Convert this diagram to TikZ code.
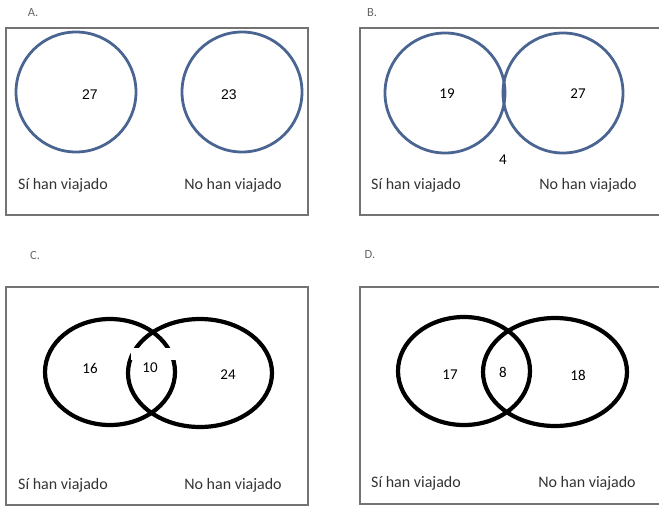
\documentclass[tikz,border=0pt]{standalone}
\usepackage{fontspec}
\setmainfont{Carlito}
\newfontfamily\arialfont{Liberation Sans}
\usetikzlibrary{positioning}
\definecolor{azulc}{HTML}{4A6591}
\tikzset{marco/.style={draw=black!55,line width=1.3pt},
  conj/.style={draw=azulc,line width=2.8pt},
  elip/.style={draw=black,line width=4.2pt},
  etiq/.style={font=\fontsize{16}{18}\selectfont,text=black!80,inner sep=0pt},
  num/.style={font=\fontsize{15}{17}\selectfont,inner sep=0pt},
  letra/.style={font=\fontsize{12.5}{14}\selectfont,text=black!60,inner sep=0pt}}

\begin{document}
\begin{tikzpicture}[x=1pt,y=-1pt]
\useasboundingbox (0,0) rectangle (659,515);
\clip (0,0) rectangle (659,515);
% A
\node[letra] (lA) at (33,13) {A.};
\draw[marco] (6,28) rectangle (308,215);
\draw[conj] (76,92) circle (60pt);\draw[conj] (242,92) circle (60pt);
\node[num,font=\arialfont\fontsize{14}{16}\selectfont] (nA1) at (90,95) {27};
\node[num,font=\arialfont\fontsize{14}{16}\selectfont] (nA2) at (229,95) {23};
\node[etiq] (sA) at (63,185) {Sí han viajado};\node[etiq] (oA) at (233,185) {No han viajado};
% B
\node[letra] (lB) at (372,13) {B.};
\draw[marco] (360,28) rectangle (670,215);
\draw[conj] (445,93) circle (60pt);\draw[conj] (563,93) circle (60pt);
\node[num] (nB1) at (447,94) {19};\node[num] (nB2) at (578,94) {27};
\node[num] (nB3) at (503,160) {4};
\node[etiq] (sB) at (416,185) {Sí han viajado};\node[etiq] (oB) at (588,185) {No han viajado};
% C
\node[letra] (lC) at (35,255) {C.};
\draw[marco] (6,287) rectangle (308,505);
\draw[elip] (110,372) ellipse [x radius=65pt,y radius=53pt];
\draw[elip] (200,373) ellipse [x radius=72pt,y radius=54pt];
\fill[white] (131,348) rectangle (179,360);
\node[num] (nC1) at (90,368) {16};\node[num] (nC2) at (150,368) {10};
\node[num] (nC3) at (228,375) {24};
\node[etiq] (sC) at (63,485) {Sí han viajado};\node[etiq] (oC) at (233,485) {No han viajado};
% D
\node[letra] (lD) at (370,255) {D.};
\draw[marco] (360,287) rectangle (670,504);
\draw[elip] (464,371) ellipse [x radius=66pt,y radius=54pt];
\draw[elip] (555,372) ellipse [x radius=72pt,y radius=54pt];
\node[num] (nD1) at (450,375) {17};\node[num] (nD2) at (503,372) {8};
\node[num] (nD3) at (578,375) {18};
\node[etiq] (sD) at (416,483) {Sí han viajado};\node[etiq] (oD) at (587,483) {No han viajado};
\end{tikzpicture}
\end{document}
